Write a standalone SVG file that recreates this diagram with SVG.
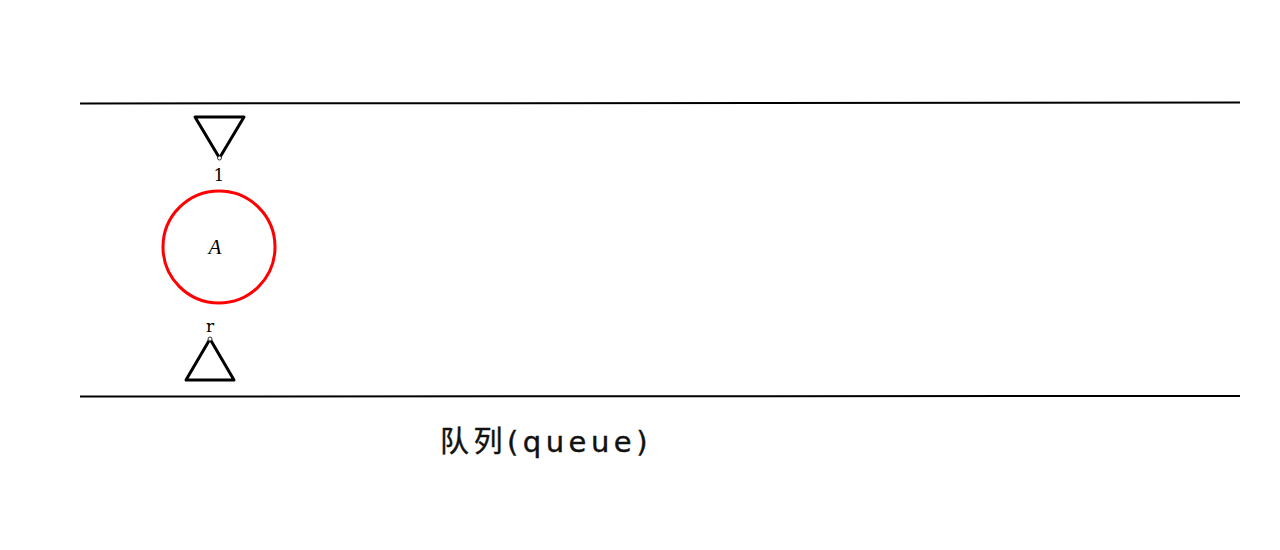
<svg xmlns="http://www.w3.org/2000/svg" width="1280" height="550" viewBox="0 0 1280 550">
<style>
.rail{stroke:#000;stroke-width:2;fill:none}
.tri{stroke:#000;stroke-width:3;fill:none;stroke-linejoin:round}
.pt{fill:#fff;stroke:#333;stroke-width:1}
.lbl{font-family:"DejaVu Serif","Liberation Serif",serif;font-size:17px;fill:#000;text-anchor:middle}
.cap{font-family:"DejaVu Sans","Noto Sans CJK SC",sans-serif;font-size:29px;letter-spacing:4.5px;fill:#111;stroke:#111;stroke-width:0.4}
</style>
<rect width="1280" height="550" fill="#fff"/>
<g id="connectors">
<line class="rail" x1="80" y1="103.5" x2="1240" y2="102.5"/>
<line class="rail" x1="80" y1="396.5" x2="1240" y2="396"/>
</g>
<g id="front">
<polygon class="tri" points="195,117 244,117 219.5,158"/>
<circle class="pt" cx="219.5" cy="158" r="2"/>
<text class="lbl" x="219" y="181">1</text>
</g>
<g id="nodeA">
<circle cx="219" cy="247" r="56" fill="none" stroke="#f00" stroke-width="3"/>
<text x="215" y="254" font-family="Liberation Serif,serif" font-style="italic" font-size="21" text-anchor="middle">A</text>
</g>
<g id="rear">
<polygon class="tri" points="210,339 186,380 234,380"/>
<circle class="pt" cx="210" cy="339" r="2"/>
<text class="lbl" x="210" y="332">r</text>
</g>
<g id="caption">
<text class="cap" x="440" y="452">队列(queue)</text>
</g>
</svg>
